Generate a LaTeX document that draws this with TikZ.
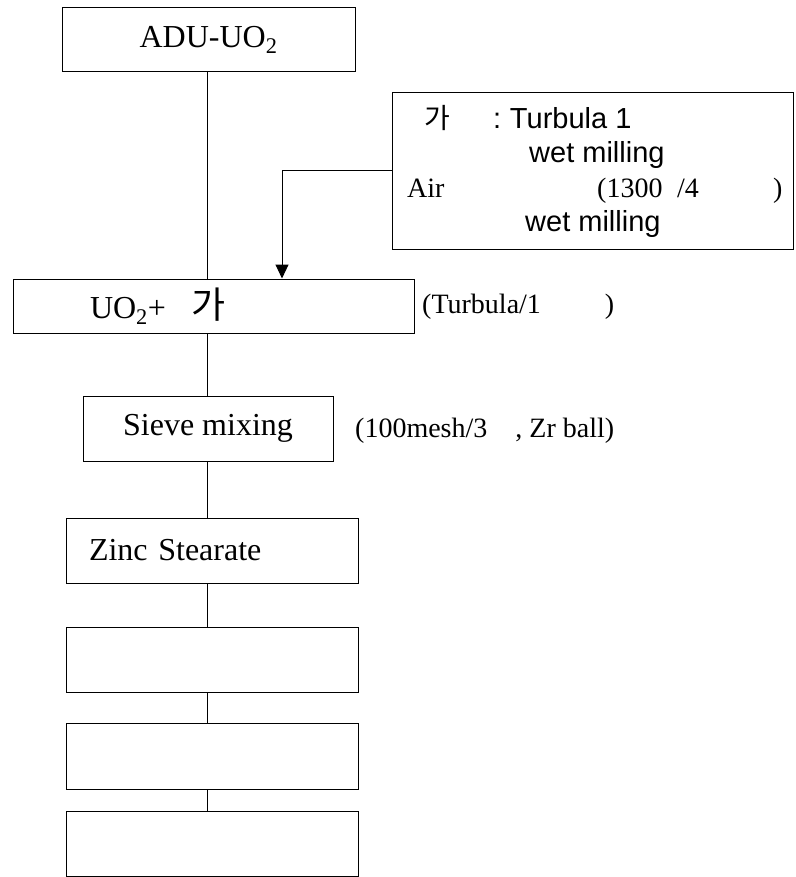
\documentclass[tikz,border=0pt]{standalone}
\usepackage{fontspec}
\setmainfont{Liberation Serif}
\newfontfamily\arialfont{Liberation Sans}
\newfontfamily\krfont{Noto Sans CJK KR}
\usetikzlibrary{arrows.meta}
\newcommand{\ga}{{\krfont\fontsize{37}{40}\selectfont 가}}

\begin{document}
\begin{tikzpicture}[x=1pt, y=-1pt,
  box/.style={draw, line width=1pt, inner sep=0pt, align=center,
              font=\fontsize{32}{38}\selectfont},
  leftbox/.style={box, align=left, inner ysep=0pt},
  lbl/.style={anchor=base west, inner sep=0pt, font=\fontsize{28}{32}\selectfont},
  sans/.style={anchor=base west, inner sep=0pt, font=\arialfont\fontsize{29}{34}\selectfont},
  link/.style={line width=1pt},
  arr/.style={line width=1pt, -{Triangle[length=14pt, width=13pt]}}
]
  \useasboundingbox (0,0) rectangle (795,877);
  \coordinate (trunk) at (207,0);
  \coordinate (drop) at (282,0);

  % process chain
  \node[box, minimum width=293pt, minimum height=64pt] (adu) at (208.5,40) {ADU-UO\textsubscript{2}};
  \node[leftbox, text width=247pt, inner xsep=77pt, minimum height=54pt] (mix) at (213.5,306)
        {UO\textsubscript{2}+\hspace{26pt}\ga};
  \node[box, minimum width=250pt, minimum height=65pt] (sieve) at (208,428.5) {Sieve mixing};
  \node[leftbox, text width=246pt, inner xsep=23pt, minimum height=65pt] (zinc) at (212,550.5) {Zinc Stearate};
  \node[box, minimum width=292pt, minimum height=65pt] (blank1) at (212,659.5) {};
  \node[box, minimum width=292pt, minimum height=66pt] (blank2) at (212,756) {};
  \node[box, minimum width=292pt, minimum height=65pt] (blank3) at (212,843.5) {};

  \foreach \a/\b in {adu/mix, mix/sieve, sieve/zinc, zinc/blank1, blank1/blank2, blank2/blank3}
    \draw[link] (\a.south -| trunk) -- (\b.north -| trunk);

  % additive note
  \node[draw, line width=1pt, minimum width=401pt, minimum height=156pt, inner sep=0pt] (note) at (592.5,171) {};
  \node[anchor=base west, inner sep=0pt, font=\krfont\fontsize{28}{32}\selectfont] (n1) at (424,129) {가};
  \node[sans] (n2) at (493,129) {:\hspace{-2pt} Turbula 1};
  \node[sans] (n3) at (529,163) {wet milling};
  \node[lbl] (n4) at (407,198) {Air};
  \node[lbl] (n5) at (597,198) {(1300};
  \node[lbl] (n6) at (677,198) {/4};
  \node[lbl] (n7) at (773,198) {)};
  \node[sans] (n8) at (525,232) {wet milling};

  \draw[arr] (note.west) -| (mix.north -| drop);

  % side remarks
  \node[lbl] (turb) at (422,313) {(Turbula/1\hspace{64pt})};
  \node[lbl] (mesh) at (355,437) {(100mesh/3\hspace{28pt}, Zr ball)};
\end{tikzpicture}
\end{document}
